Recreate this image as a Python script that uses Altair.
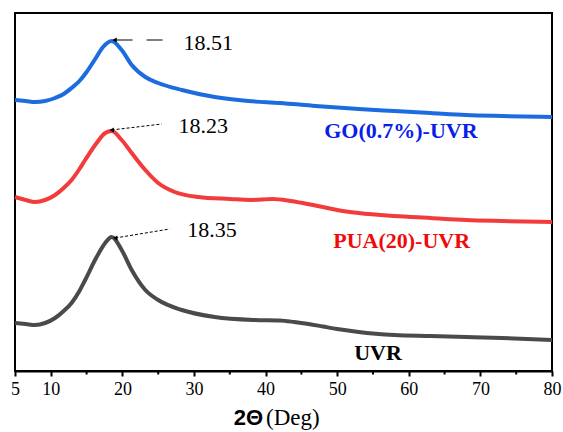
import altair as alt
import pandas as pd

# ---- data (2theta in degrees, intensity in arbitrary offset units) ----
go_deg = [5, 6.5, 7.8, 9.2, 10.6, 11.8, 12.9, 14, 15, 16.2, 17.3, 18.5, 19.9, 21.3, 23.2,
          25, 28.3, 32.9, 37.6, 42, 47, 53, 58, 63, 68, 73, 80]
go_int = [271, 270, 269, 270, 273, 277, 283, 290, 299, 312, 324, 330, 321, 306, 294,
          288, 281, 274, 270, 268, 265, 262, 260, 258, 256, 255, 254]

pua_deg = [5, 6.5, 7.8, 9.2, 10.6, 11.8, 12.9, 14, 14.8, 16.4, 17.6, 18.5, 19.9, 21.3, 23.2, 25,
           27.3, 30.6, 35, 38, 41, 43.5, 45.5, 48, 50, 53, 58, 63, 68, 73, 80]
pua_int = [174, 171, 169, 171, 176, 183, 191, 202, 211, 228, 238, 240, 231, 218, 201, 188,
           179, 174, 172, 171, 172, 170, 167.5, 164, 161, 158, 155, 153, 151, 150, 149]

uvr_deg = [5, 6.5, 7.8, 9.2, 10.6, 11.8, 12.9, 14, 14.8, 16.4, 17.6, 18.5, 19.9, 21.3, 23.2, 25,
           28.3, 32.9, 38.5, 42, 44, 46, 48, 50, 53, 58, 63, 68, 73, 80]
uvr_int = [48, 47, 46, 48, 53, 60, 68, 80, 91, 114, 128, 134, 121, 101, 81, 71,
           61, 54, 51, 50.5, 49, 47, 44.5, 42, 39, 36, 35, 34, 33, 31]

series_names = ["GO(0.7%)-UVR", "PUA(20)-UVR", "UVR"]
series_colors = ["#1c6ce0", "#f23c3c", "#4a4a4a"]
label_colors = ["#0a1eea", "#f00a0a", "#000000"]
label_deg = [58.9, 59.0, 55.7]
label_int = [240, 130, 18]

peak_text = ["18.51", "18.23", "18.35"]
peak_text_deg = [32.0, 31.3, 32.5]
peak_text_int = [328, 245, 141]
arrow_head_deg = [18.9, 18.5, 19.0]
arrow_head_int = [331, 241, 133]
arrow_tail_deg = [25.6, 25.5, 26.6]
arrow_tail_int = [331, 247, 142]

major_ticks = [5, 10, 20, 30, 40, 50, 60, 70, 80]
minor_ticks = [15, 25, 35, 45, 55, 65, 75]

# ---- tables ----
rows = []
for name, d, v in zip(series_names, [go_deg, pua_deg, uvr_deg], [go_int, pua_int, uvr_int]):
    for a, b in zip(d, v):
        rows.append({"sample": name, "deg": a, "inten": b})
curves = pd.DataFrame(rows)

labels = pd.DataFrame({"sample": series_names, "deg": label_deg, "inten": label_int,
                       "col": label_colors})
ann = pd.DataFrame({"txt": peak_text, "deg": peak_text_deg, "inten": peak_text_int,
                    "hd": arrow_head_deg, "hi": arrow_head_int,
                    "td": arrow_tail_deg, "ti": arrow_tail_int,
                    "kind": ["long", "short", "short"]})
minor = pd.DataFrame({"deg": minor_ticks})

xs = alt.Scale(domain=[5, 80], nice=False, zero=False)
ys = alt.Scale(domain=[0, 358], nice=False, zero=False)

lines = alt.Chart(curves).mark_line(strokeWidth=4, interpolate="monotone").encode(
    x=alt.X("deg:Q", scale=xs, axis=alt.Axis(
        values=major_ticks, title=None, grid=False, tickSize=5, tickWidth=2,
        tickColor="black", domainColor="black", domainWidth=2,
        labelFont="Liberation Serif", labelFontSize=18, labelColor="black",
        labelPadding=4, labelFlush=False, labelOverlap=False)),
    y=alt.Y("inten:Q", scale=ys, axis=None),
    color=alt.Color("sample:N", scale=alt.Scale(domain=series_names, range=series_colors),
                    legend=None),
)

minor_rules = alt.Chart(minor).mark_rule(color="black", strokeWidth=2).encode(
    x=alt.X("deg:Q", scale=xs), y=alt.value(358), y2=alt.value(361.5))

label_text = alt.Chart(labels).mark_text(
    font="Liberation Serif", fontSize=22, fontWeight="bold", align="center", baseline="middle"
).encode(
    x=alt.X("deg:Q", scale=xs), y=alt.Y("inten:Q", scale=ys),
    text="sample:N", color=alt.Color("col:N", scale=None),
)

peak_labels = alt.Chart(ann).mark_text(
    font="Liberation Serif", fontSize=22, align="center", baseline="middle", color="black"
).encode(x=alt.X("deg:Q", scale=xs), y=alt.Y("inten:Q", scale=ys), text="txt:N")

arrow_long = alt.Chart(ann).transform_filter(alt.datum.kind == "long").mark_rule(
    color="black", strokeWidth=1.2, strokeDash=[18, 14]).encode(
    x=alt.X("hd:Q", scale=xs), y=alt.Y("hi:Q", scale=ys), x2="td:Q", y2="ti:Q")

arrow_short = alt.Chart(ann).transform_filter(alt.datum.kind == "short").mark_rule(
    color="black", strokeWidth=1, strokeDash=[3, 2]).encode(
    x=alt.X("hd:Q", scale=xs), y=alt.Y("hi:Q", scale=ys), x2="td:Q", y2="ti:Q")

arrow_heads = alt.Chart(ann).mark_point(
    shape="triangle-left", filled=True, color="black", size=26, opacity=1
).encode(x=alt.X("hd:Q", scale=xs), y=alt.Y("hi:Q", scale=ys))

title_a = alt.Chart(pd.DataFrame({"t": ["2Θ"]})).mark_text(
    font="Liberation Sans", fontSize=22, fontWeight="bold", align="right", baseline="middle",
    color="black"
).encode(text="t:N", x=alt.value(248), y=alt.value(405))
title_b = alt.Chart(pd.DataFrame({"t": ["(Deg)"]})).mark_text(
    font="Liberation Serif", fontSize=23, align="left", baseline="middle", color="black"
).encode(text="t:N", x=alt.value(251), y=alt.value(405))

chart = alt.layer(
    lines, minor_rules, label_text, arrow_long, arrow_short, arrow_heads, peak_labels,
    title_a, title_b
).properties(
    width=537, height=358,
    padding={"left": 15, "top": 13, "right": 11, "bottom": 61},
    autosize=alt.AutoSizeParams(type="none"),
    background="white",
).configure_view(stroke="black", strokeWidth=2)

chart.save("out.html", embed_options={"renderer": "svg", "actions": False})
